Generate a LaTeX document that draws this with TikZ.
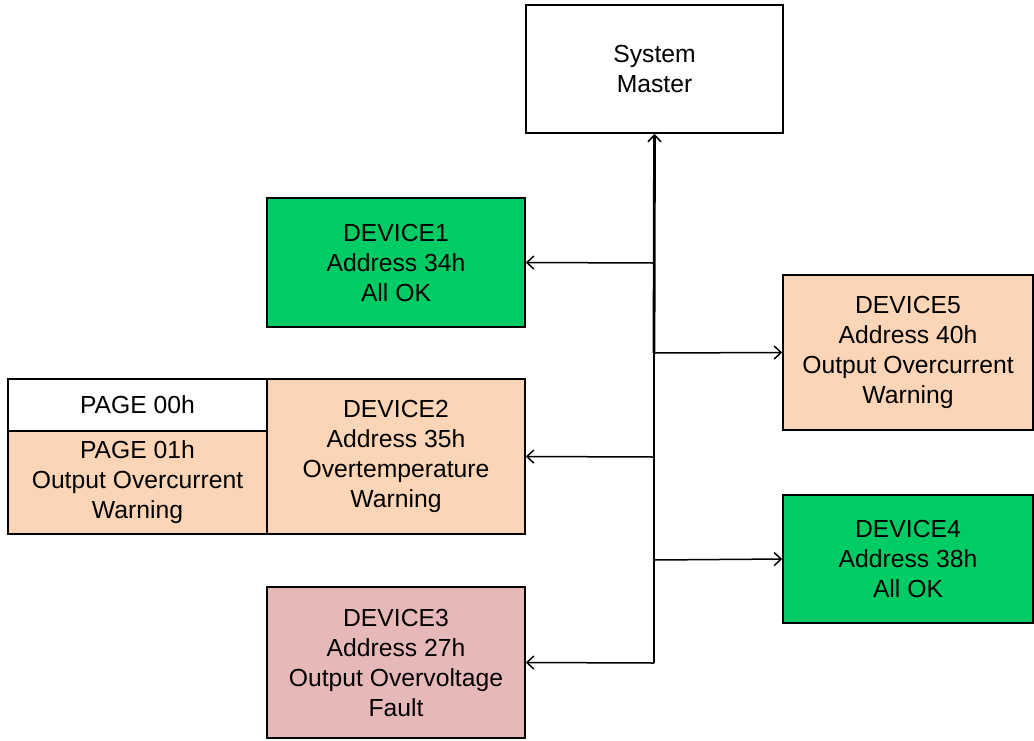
\documentclass[tikz,border=0pt]{standalone}
\usepackage{fontspec}
\setmainfont{Liberation Sans}
\usetikzlibrary{arrows.meta}

\definecolor{okgreen}{RGB}{0,204,102}
\definecolor{warnpeach}{RGB}{251,213,181}
\definecolor{faultpink}{RGB}{230,185,184}

\tikzset{
  box/.style={draw=black, line width=1.5pt, align=center, inner sep=0pt,
    font=\fontsize{24.7}{30}\selectfont},
  link/.style={line width=1.5pt, -{Straight Barb[length=7pt,width=13pt,line width=1.5pt]}},
}

\begin{document}
\begin{tikzpicture}[x=1pt,y=-1pt]
  \useasboundingbox (0,0) rectangle (1034,740);

  % system master at the top of the bus
  \node[box, fill=white, minimum width=257pt, minimum height=128pt]
    (master) at (654.5,69) {System\\Master};

  % devices on the left of the bus
  \node[box, fill=okgreen, minimum width=258pt, minimum height=129pt]
    (d1) at (396,262.5) {DEVICE1\\Address 34h\\All OK};
  \node[box, fill=warnpeach, minimum width=258pt, minimum height=155pt]
    (d2) at (396,456.5) {DEVICE2\\Address 35h\\Overtemperature\\Warning};
  \node[box, fill=faultpink, minimum width=258pt, minimum height=151pt]
    (d3) at (396,662.5) {DEVICE3\\Address 27h\\Output Overvoltage\\Fault};

  % pages of DEVICE2
  \node[box, fill=white, minimum width=259pt, minimum height=52pt]
    (p0) at (137.5,405) {PAGE 00h};
  \node[box, fill=warnpeach, minimum width=259pt, minimum height=103pt]
    (p1) at (137.5,482.5) {PAGE 01h\\Output Overcurrent\\Warning};

  % devices on the right of the bus
  \node[box, fill=warnpeach, minimum width=250pt, minimum height=155pt]
    (d5) at (908,352.5) {DEVICE5\\Address 40h\\Output Overcurrent\\Warning};
  \node[box, fill=okgreen, minimum width=250pt, minimum height=128pt]
    (d4) at (908,559) {DEVICE4\\Address 38h\\All OK};

  % bus junctions
  \coordinate (j1) at (654,263);
  \coordinate (j5) at (654,353);
  \coordinate (j2) at (654,457);
  \coordinate (j4) at (654,560);
  \coordinate (j3) at (654,663);

  % bus trunk
  \draw[line width=1.8pt] (j3) -- (j5);
  \draw[line width=2.8pt, -{Straight Barb[length=7pt,width=13pt,line width=1.5pt]}]
    (j5) -- (master.south);

  % branches to the devices
  \draw[link] (j1) -- (d1.east);
  \draw[link] (j2) -- (d2.east);
  \draw[link] (j3) -- (d3.east);
  \draw[link] (j5) -- (d5.west);
  \draw[link] (j4) -- (d4.west);
\end{tikzpicture}
\end{document}
